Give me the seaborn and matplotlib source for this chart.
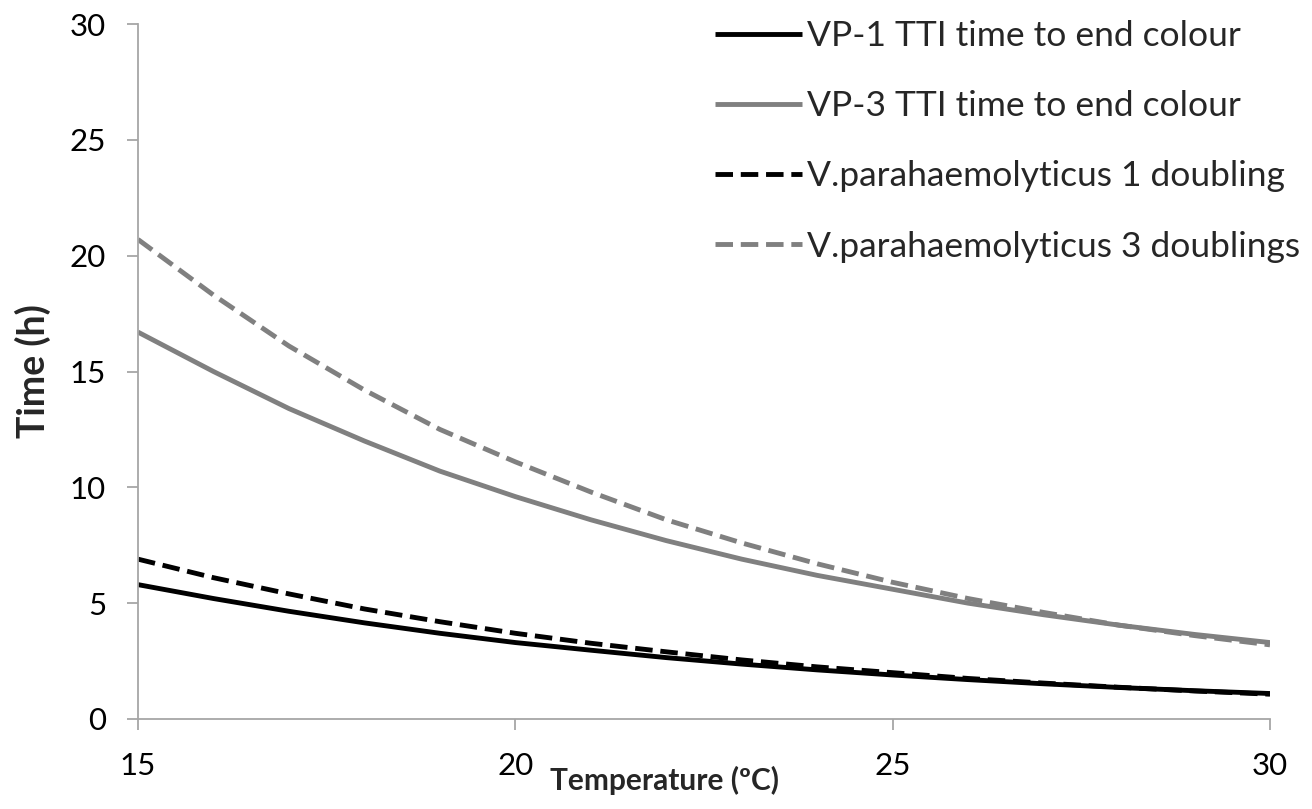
import matplotlib
matplotlib.use("Agg")
import matplotlib.pyplot as plt
import seaborn as sns
import pandas as pd

temperature = [15, 16, 17, 18, 19, 20, 21, 22, 23, 24, 25, 26, 27, 28, 29, 30]
vp1_tti = [5.8, 5.2, 4.65, 4.15, 3.7, 3.3, 2.97, 2.65, 2.37, 2.12, 1.9, 1.7, 1.52, 1.36, 1.22, 1.1]
vp3_tti = [16.7, 15.0, 13.4, 12.0, 10.7, 9.6, 8.6, 7.7, 6.9, 6.2, 5.6, 5.0, 4.5, 4.05, 3.65, 3.3]
vpar_1 = [6.9, 6.1, 5.4, 4.75, 4.2, 3.7, 3.27, 2.9, 2.55, 2.25, 2.0, 1.75, 1.55, 1.37, 1.21, 1.07]
vpar_3 = [20.7, 18.3, 16.1, 14.2, 12.5, 11.1, 9.8, 8.6, 7.6, 6.7, 5.9, 5.2, 4.6, 4.05, 3.6, 3.2]

series_names = ["VP-1 TTI time to end colour", "VP-3 TTI time to end colour",
                "V.parahaemolyticus 1 doubling", "V.parahaemolyticus 3 doublings"]
series_values = [vp1_tti, vp3_tti, vpar_1, vpar_3]
colors = ["#000000", "#808080", "#000000", "#808080"]
dashes = [None, None, (3.6, 1.6), (3.6, 1.6)]

sns.set_theme(style="white")
plt.rcParams['font.family'] = ['Lato', 'DejaVu Sans']

fig = plt.figure(figsize=(13.12, 8.09), dpi=100)
ax = fig.add_axes([138/1312, 1-719/809, (1270-138)/1312, (719-24)/809])

for name, vals, c, d in zip(series_names, series_values, colors, dashes):
    df = pd.DataFrame({"Temperature": temperature, "Time": vals})
    sns.lineplot(data=df, x="Temperature", y="Time", ax=ax, color=c,
                 linewidth=3.5, label=name)
    l = ax.lines[-1]
    if d is not None:
        l.set_dashes(d)
    l.set_solid_capstyle("butt")
    l.set_dash_capstyle("butt")

ax.set_xlim(15, 30)
ax.set_ylim(0, 30)
ax.set_xticks([15, 20, 25, 30])
ax.set_yticks([0, 5, 10, 15, 20, 25, 30])

for s in ["top", "right"]:
    ax.spines[s].set_visible(False)
for s in ["left", "bottom"]:
    ax.spines[s].set_color("#a6a6a6")
    ax.spines[s].set_linewidth(1.3)

ax.tick_params(axis="both", which="major", direction="out", length=8, width=1.3,
               color="#a6a6a6", labelsize=22.5, labelcolor="#000000")
ax.tick_params(axis="y", pad=15)
ax.tick_params(axis="x", pad=16)
ax.tick_params(left=True, bottom=True)

ax.set_xlabel("Temperature (ºC)", fontsize=21.5, fontweight="bold")
ax.set_ylabel("Time (h)", fontsize=27, fontweight="bold")
ax.xaxis.set_label_coords((665-138)/1132, (719-780)/695)
ax.yaxis.set_label_coords((33-138)/1132, (719-371)/695)
ax.xaxis.label.set_va("center")
ax.yaxis.label.set_va("center")

leg = ax.legend(loc="upper left", bbox_to_anchor=((715-138)/1132, (719-20)/695),
                frameon=False, fontsize=25.5, handlelength=2.46, handletextpad=0.14,
                labelspacing=1.08, borderaxespad=0, borderpad=0)

fig.savefig("out.png", dpi=100)
